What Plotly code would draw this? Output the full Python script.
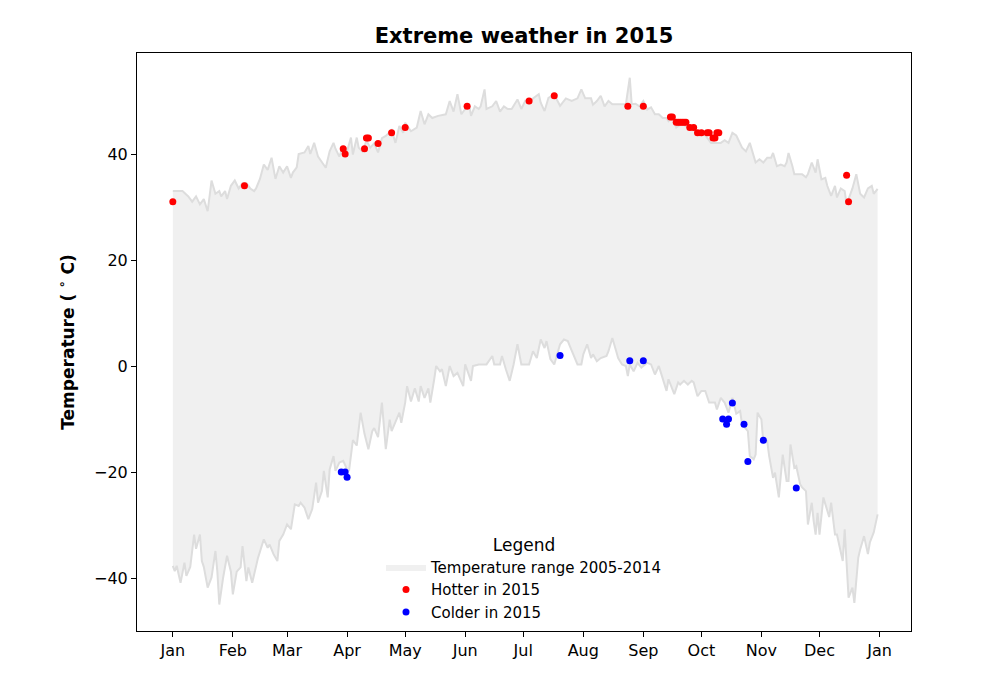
import datetime as dt
import plotly.graph_objects as go

# record highs 2005-2014 (day of year offset, value)
max_days = [0, 5, 8, 10, 12, 14, 16, 18, 20, 22, 24, 25, 27, 28, 30, 32, 34, 36, 38, 40,
            42, 43, 45, 47, 49, 51, 53, 55, 57, 59, 61, 62, 64, 65, 68, 70, 71, 73, 75, 77,
            79, 81, 83, 84, 86, 88, 90, 92, 93, 95, 96, 98, 100, 102, 104, 106, 108, 110, 113, 115,
            117, 119, 120, 123, 126, 128, 130, 132, 134, 137, 141, 143, 145, 147, 149, 151, 153, 154, 156, 158,
            159, 161, 162, 165, 167, 169, 171, 173, 175, 178, 180, 182, 184, 186, 189, 190, 192, 194, 196, 198,
            200, 203, 206, 209, 211, 213, 216, 217, 219, 221, 223, 225, 227, 234, 236, 237, 239, 241, 243, 245,
            247, 249, 251, 253, 255, 256, 258, 260, 262, 264, 266, 268, 270, 272, 274, 276, 278, 280, 283, 285,
            287, 289, 291, 294, 296, 298, 300, 301, 303, 305, 307, 309, 310, 312, 314, 316, 317, 318, 320, 321,
            325, 327, 328, 330, 332, 333, 335, 337, 338, 340, 342, 343, 345, 347, 348, 351, 353, 355, 357, 359,
            361, 362, 364]
max_vals = [33, 33, 32, 31, 32, 30.5, 31.5, 29.2, 35, 32.5, 33, 32, 33, 31.5, 34, 35, 33.5, 34.5, 34.5, 33.5,
            33, 33.5, 35.3, 38, 37, 39.3, 35.3, 37.7, 36.5, 37.7, 35.5, 36.5, 37.5, 40, 40.3, 41.5, 40, 42.1, 39.5, 38.5,
            37.4, 40.5, 42.1, 41, 39.5, 41.5, 40.5, 43.1, 39.9, 43.1, 41.2, 40.5, 42.5, 41.2, 42, 40.3, 43, 43.4, 44.5, 42.1,
            45.3, 44, 45.9, 44.3, 45, 48.1, 45.6, 47.5, 46.8, 47.2, 47.5, 50, 48, 51.3, 47.5, 48.5, 49.5, 47.2, 49, 48.5,
            49, 52.2, 48.5, 49, 50, 48, 49, 48.5, 48.5, 50.3, 48.5, 50, 49.5, 50.5, 51.3, 49.7, 48.1, 50.6, 51, 50.5,
            49.1, 50.5, 50, 50.5, 52.2, 50.5, 50.5, 49.3, 50, 51, 49, 50, 49.4, 49.4, 54.4, 49.4, 49.5, 49, 50, 48.4,
            48.8, 47.5, 47.5, 46.8, 46.8, 46.2, 47, 45, 45.5, 45.5, 45, 44.5, 44.5, 43.5, 44, 43, 42.1, 42.1, 42.1, 42.6,
            42.1, 44, 43.5, 41.2, 40.5, 42.1, 39.6, 38.4, 39, 38.4, 39.3, 39.3, 40.2, 37.7, 38, 37.7, 38.4, 40.2, 37.7, 36.2,
            36.2, 35.6, 36.2, 38.4, 36.5, 39, 35.2, 35.5, 34, 32.1, 34, 31.8, 33.5, 33, 30.5, 33.5, 36.2, 32.5, 31.8, 33.5,
            34, 32.5, 33.4]

# record lows 2005-2014
min_days = [0, 1, 2, 4, 6, 7, 9, 11, 12, 14, 15, 16, 18, 20, 22, 23, 24, 26, 28, 30,
            31, 33, 35, 36, 38, 39, 41, 44, 47, 49, 50, 52, 54, 55, 57, 59, 61, 63, 65, 66,
            68, 70, 72, 74, 75, 77, 78, 80, 81, 83, 84, 86, 88, 90, 91, 93, 95, 97, 99, 101,
            103, 104, 106, 108, 110, 112, 113, 115, 117, 118, 120, 121, 123, 125, 127, 128, 130, 132, 133, 135,
            136, 138, 139, 141, 143, 145, 147, 150, 151, 154, 155, 158, 162, 165, 166, 169, 170, 172, 174, 176,
            178, 180, 184, 186, 188, 190, 192, 193, 195, 197, 198, 200, 202, 204, 205, 207, 209, 211, 212, 214,
            216, 217, 219, 221, 224, 225, 227, 229, 230, 232, 234, 235, 236, 238, 240, 242, 245, 247, 249, 251,
            253, 255, 256, 259, 261, 262, 264, 266, 268, 269, 271, 273, 275, 277, 280, 281, 283, 285, 287, 289,
            291, 293, 294, 297, 298, 300, 301, 302, 304, 305, 307, 308, 310, 311, 313, 315, 317, 318, 319, 321,
            322, 324, 325, 327, 328, 330, 331, 332, 333, 334, 336, 337, 339, 340, 342, 343, 345, 346, 347, 349,
            351, 352, 354, 355, 357, 359, 360, 362, 364]
min_vals = [-37.7, -38.7, -37.7, -40.9, -37.1, -39.6, -37.9, -31.8, -34.5, -31.8, -36.8, -37.9, -41.8, -39.9, -34.9, -38.8, -45, -39.9, -35.8, -38.8,
            -43.1, -38.8, -38, -34, -40.6, -38, -40.9, -36.2, -32.7, -34.3, -33.7, -35.5, -36.8, -33, -31.8, -29.9, -30.8, -26.1, -26.4, -25.8,
            -26.7, -28.9, -27, -22, -25.8, -23.6, -19.8, -24.8, -19.5, -17, -19.8, -18.2, -17.9, -19.5, -19.8, -14, -15, -8.8, -12.8, -15.7,
            -12.3, -11.7, -13.4, -6.9, -15.7, -10.1, -12.3, -10.5, -8.8, -10.7, -6.9, -3.8, -6.7, -4.2, -6.7, -3.8, -6, -4.2, -6.9, -2.5,
            0, -1, -0.6, -3.8, 0, -1.9, -1.3, -3.8, 0.3, -2.8, 0, 0.3, 0.3, 1.9, 0.3, 0.3, 1.9, -0.6, -2.8, 0.3,
            4.1, 0.3, 0.3, 2.8, 1.5, 5, 3.4, 4.7, 1.3, 0.3, 1.5, 4.1, 5, 4.7, 3.8, 2.2, 0.3, 0.3, 2.2, 4.1,
            1.5, 2.2, 0.9, 1.5, 1.9, 2.8, 5.3, 2.8, 1.5, 0.3, 0, -1.9, 0.3, -1, 0.6, -0.3, 0.6, 0.3, -1.6, 0,
            -2.2, -4.7, -2.5, -5.3, -3.1, -3.5, -2.8, -3.5, -2.8, -3.1, -5.7, -4.7, -4.7, -6.9, -6.9, -8.2, -6, -6.9, -8.8, -6,
            -9, -8.5, -11, -12.3, -17, -17.6, -16.7, -8.8, -10.1, -14.5, -14.2, -17, -21.1, -20.1, -24.8, -16.7, -21.7, -21.7, -14.8, -19.2,
            -18.9, -22.3, -22.9, -23.6, -29.9, -25.8, -29.3, -31.8, -27.7, -31.8, -24.8, -26, -28.5, -25.8, -31.8, -31.8, -35.5, -36.8, -30.8, -43.7,
            -41.8, -44.7, -36.2, -34.6, -32.1, -35.5, -33.3, -31.4, -28]

# 2015 days that broke the record
hot_days = [0, 37, 88, 89, 99, 100, 101, 106, 113, 120, 152, 184, 197, 235, 243, 257, 258, 260,
            261, 262, 263, 264, 265, 267, 269, 271, 273, 276, 277, 279, 280, 281, 282, 348, 349]
hot_vals = [31, 34, 41, 40, 41, 43, 43, 42, 44, 45, 49, 50, 51, 49, 49, 47, 47, 46,
            46, 46, 46, 46, 46, 45, 45, 44, 44, 44, 44, 43, 43, 44, 44, 36, 31]
cold_days = [87, 89, 90, 200, 236, 243, 284, 286, 287, 289, 295, 297, 305, 322]
cold_vals = [-20, -20, -21, 2, 1, 1, -10, -11, -10, -7, -11, -18, -14, -23]

start = dt.date(2015, 1, 1)
def to_dates(days):
    return [start + dt.timedelta(days=d) for d in days]

max_x = to_dates(max_days)
min_x = to_dates(min_days)

fig = go.Figure()

fig.add_trace(go.Scatter(
    x=max_x + min_x[::-1], y=max_vals + min_vals[::-1],
    fill='toself', fillcolor='rgb(240,240,240)', mode='lines',
    line=dict(width=0, color='rgb(240,240,240)'),
    name='Temperature range 2005-2014', hoverinfo='skip'))
fig.add_trace(go.Scatter(x=max_x, y=max_vals, mode='lines',
                         line=dict(color='rgb(221,221,221)', width=2), showlegend=False))
fig.add_trace(go.Scatter(x=min_x, y=min_vals, mode='lines',
                         line=dict(color='rgb(221,221,221)', width=2), showlegend=False))
fig.add_trace(go.Scatter(x=to_dates(hot_days), y=hot_vals, mode='markers',
                         marker=dict(color='red', size=7), name='Hotter in 2015'))
fig.add_trace(go.Scatter(x=to_dates(cold_days), y=cold_vals, mode='markers',
                         marker=dict(color='blue', size=7), name='Colder in 2015'))

axis_font = dict(family='DejaVu Sans', size=16, color='black')
fig.update_layout(
    width=1008, height=683,
    # page shows the figure shifted by about 8px, so margins are nudged
    margin=dict(l=129, r=105, t=45, b=60),
    plot_bgcolor='white', paper_bgcolor='white',
    font=dict(family='DejaVu Sans', color='black'),
    title=dict(text='<b>Extreme weather in 2015</b>', x=0.5, xref='paper', xanchor='center',
               y=0.959, yanchor='middle', font=dict(size=21, family='DejaVu Sans')),
    legend=dict(x=0.5, xanchor='center', y=0.004, yanchor='bottom',
                bgcolor='rgba(0,0,0,0)', font=dict(size=15, family='DejaVu Sans'),
                title=dict(text='Legend', side='top center', font=dict(size=17)),
                itemwidth=40, tracegroupgap=0),
    showlegend=True,
)
fig.update_xaxes(
    range=['2014-12-13 12:00', '2016-01-17 06:00'],
    tickformat='%b', dtick='M1', tick0='2015-01-01',
    ticks='outside', ticklen=5, tickcolor='black', tickfont=axis_font,
    showgrid=False, zeroline=False,
    showline=True, linecolor='black', linewidth=1, mirror=True)
fig.update_yaxes(
    range=[-50, 59.06], tickvals=[-40, -20, 0, 20, 40],
    ticks='outside', ticklen=5, tickcolor='black', tickfont=axis_font,
    showgrid=False, zeroline=False,
    showline=True, linecolor='black', linewidth=1, mirror=True,
    title=dict(text='<b>Temperature ( <sup>∘</sup> C)</b>', font=dict(size=17, family='DejaVu Sans'),
               standoff=15))

fig.write_html("out.html")
